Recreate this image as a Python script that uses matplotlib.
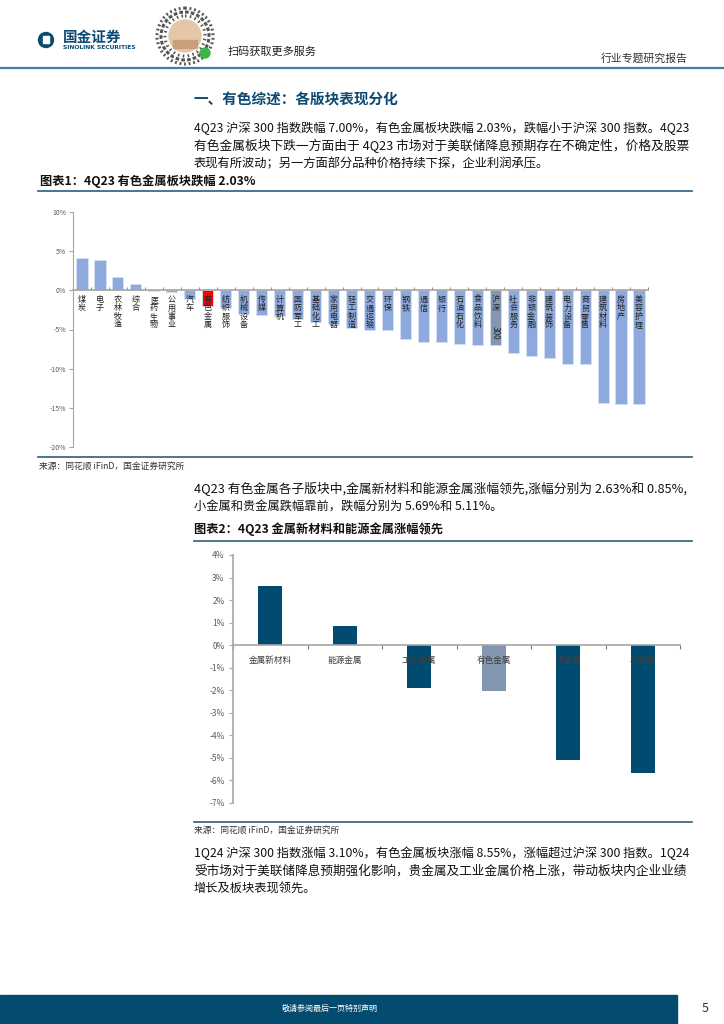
import matplotlib
matplotlib.use("Agg")
import matplotlib.pyplot as plt
from matplotlib.patches import Rectangle, Circle
import numpy as np

plt.rcParams['font.family'] = ['Noto Sans CJK SC', 'DejaVu Sans']

# chart 1: 申万一级行业 4Q23 涨跌幅
sectors = ['煤炭', '电子', '农林牧渔', '综合', '医药生物', '公用事业', '汽车', '有色金属',
           '纺织服饰', '机械设备', '传媒', '计算机', '国防军工', '基础化工', '家用电器',
           '轻工制造', '交通运输', '环保', '钢铁', '通信', '银行', '石油石化', '食品饮料',
           '沪深300', '社会服务', '非银金融', '建筑装饰', '电力设备', '商贸零售', '建筑材料',
           '房地产', '美容护理']
sector_chg = [4.15, 3.90, 1.67, 0.77, -0.10, -0.25, -1.07, -2.03, -2.30, -3.00, -3.10,
              -3.25, -3.60, -4.00, -4.35, -4.87, -5.00, -5.04, -6.15, -6.62, -6.62, -6.88,
              -7.00, -7.00, -8.00, -8.38, -8.60, -9.36, -9.36, -14.44, -14.57, -14.57]
yticks1 = [10, 5, 0, -5, -10, -15, -20]

# chart 2: 有色子板块 4Q23 涨跌幅
subsectors = ['金属新材料', '能源金属', '工业金属', '有色金属', '贵金属', '小金属']
sub_chg = [2.63, 0.85, -1.90, -2.03, -5.11, -5.69]
yticks2 = [4, 3, 2, 1, 0, -1, -2, -3, -4, -5, -6, -7]

para1 = ["4Q23 沪深 300 指数跌幅 7.00%，有色金属板块跌幅 2.03%，跌幅小于沪深 300 指数。4Q23",
         "有色金属板块下跌一方面由于 4Q23 市场对于美联储降息预期存在不确定性，价格及股票",
         "表现有所波动；另一方面部分品种价格持续下探，企业利润承压。"]
para2 = ["4Q23 有色金属各子版块中,金属新材料和能源金属涨幅领先,涨幅分别为 2.63%和 0.85%,",
         "小金属和贵金属跌幅靠前，跌幅分别为 5.69%和 5.11%。"]
para3 = ["1Q24 沪深 300 指数涨幅 3.10%，有色金属板块涨幅 8.55%，涨幅超过沪深 300 指数。1Q24",
         "受市场对于美联储降息预期强化影响，贵金属及工业金属价格上涨，带动板块内企业业绩",
         "增长及板块表现领先。"]

W, H = 724, 1024
NAVY = '#0B4A73'
fig = plt.figure(figsize=(W / 100, H / 100), dpi=100)
renderer = fig.canvas.get_renderer()
bg = fig.add_axes([0, 0, 1, 1])
bg.set_xlim(0, W)
bg.set_ylim(H, 0)
bg.axis('off')

# header: logo, qr code sketch, labels
bg.add_patch(Circle((46, 40), 7.5, color=NAVY))
bg.add_patch(Rectangle((43, 36), 6, 7, color='white'))
bg.text(63, 37, '国金证券', fontsize=10.5, fontweight='bold', color=NAVY, va='center')
bg.text(63, 47.5, 'SINOLINK SECURITIES', fontsize=4.3, fontweight='bold', color=NAVY,
        va='center', family='DejaVu Sans')
for r, dash in [(28, (0, (0.6, 0.9))), (24, (0, (1.2, 0.7))), (20, (0, (0.5, 1.1)))]:
    bg.add_patch(Circle((185, 36), r, fill=False, ec='#555555', lw=2.2, ls=dash))
bg.add_patch(Circle((185, 36), 16, color='#E3C7A8'))
bg.add_patch(Rectangle((173, 40), 24, 8, color='#C89F7A'))
bg.add_patch(Circle((205, 53), 5, color='#3DB54A'))
bg.text(228, 52, '扫码获取更多服务', fontsize=8, color='#222222', va='center')
bg.text(688, 58, '行业专题研究报告', fontsize=7.8, color='#333333', va='center', ha='right')
bg.plot([0, W], [68, 68], color='#3E7FA6', lw=1.6)

bg.text(194, 99, '一、有色综述：各版块表现分化', fontsize=10.5, fontweight='bold',
        color=NAVY, va='center')


def paragraph(lines, x, y0, step=18, right=689, size=8.8):
    # full lines are stretched a little so they end at the right margin
    for k, line in enumerate(lines):
        t = bg.text(x, y0 + k * step, line, fontsize=size, color='#111111', va='center')
        if k < len(lines) - 1:
            w = t.get_window_extent(renderer).width
            scale = min(max((right - x) / w, 0.95), 1.06)
            t.set_fontsize(size * scale)


paragraph(para1, 194, 128)
paragraph(para2, 194, 489)
paragraph(para3, 194, 853)

# chart 1 frame
bg.text(40, 181, '图表1：4Q23 有色金属板块跌幅 2.03%', fontsize=8.8, fontweight='bold',
        color='#111111', va='center')
bg.plot([38, 692], [191, 191], color='#2C5E7E', lw=1.2)
bg.plot([38, 692], [457, 457], color='#2C5E7E', lw=1.2)
bg.text(39, 467, '来源：同花顺 iFinD，国金证券研究所', fontsize=6.3, color='#333333', va='center')

# chart 2 frame
bg.text(194, 529, '图表2：4Q23 金属新材料和能源金属涨幅领先', fontsize=8.8, fontweight='bold',
        color='#111111', va='center')
bg.plot([194, 692], [541, 541], color='#2C5E7E', lw=1.2)
bg.plot([194, 692], [822, 822], color='#2C5E7E', lw=1.2)
bg.text(194, 831, '来源：同花顺 iFinD，国金证券研究所', fontsize=6.3, color='#333333', va='center')

# footer
bg.add_patch(Rectangle((0, 995), 677, 29, color='#034B6F'))
bg.text(330, 1008, '敬请参阅最后一页特别声明', fontsize=5.8, color='white', va='center', ha='center')
bg.text(705, 1008, '5', fontsize=9, color='#333333', va='center', ha='center')

AXC = '#A6A6A6'

# ---- chart 1
ax1 = fig.add_axes([73 / W, 1 - 447 / H, (648 - 73) / W, (447 - 212) / H])
ax1.patch.set_alpha(0)
x1 = np.arange(len(sectors))
colors1 = ['#FF0000' if s == '有色金属' else '#8497B0' if s == '沪深300' else '#8EA9DB'
           for s in sectors]
ax1.bar(x1, sector_chg, width=0.62, color=colors1, edgecolor='#D6E0F2', linewidth=0.6, zorder=2)
ax1.set_xlim(-0.5, len(sectors) - 0.5)
ax1.set_ylim(-20, 10)
for side in ['top', 'right']:
    ax1.spines[side].set_visible(False)
ax1.spines['left'].set_color(AXC)
ax1.spines['bottom'].set_position(('data', 0))
ax1.spines['bottom'].set_color(AXC)
ax1.spines['bottom'].set_linewidth(1.2)
ax1.spines['bottom'].set_zorder(3)
ax1.set_xticks(np.arange(-0.5, len(sectors), 1))
ax1.set_xticklabels([])
ax1.tick_params(axis='x', direction='in', length=2, color='#777777', width=0.6)
ax1.set_yticks(yticks1)
ax1.set_yticklabels([f'{v}%' for v in yticks1])
ax1.tick_params(axis='y', direction='out', length=3, color=AXC, labelsize=5,
                labelcolor='#595959', pad=2)
for i, s in enumerate(sectors):
    cjk = ''.join(ch for ch in s if not ch.isdigit())
    digits = ''.join(ch for ch in s if ch.isdigit())
    ax1.text(i, -0.6, '\n'.join(cjk), fontsize=5.8, linespacing=0.92, ha='center', va='top',
             color='#222222', zorder=4)
    if digits:
        ax1.text(i, -0.6 - 2.0 * len(cjk), digits, fontsize=5.8, rotation=-90, ha='center',
                 va='top', color='#222222', zorder=4)

# ---- chart 2
ax2 = fig.add_axes([233 / W, 1 - 803 / H, (680 - 233) / W, (803 - 555) / H])
ax2.patch.set_alpha(0)
x2 = np.arange(len(subsectors))
colors2 = ['#8497B0' if s == '有色金属' else '#014A70' for s in subsectors]
ax2.bar(x2, sub_chg, width=0.32, color=colors2, zorder=2)
ax2.set_xlim(-0.5, len(subsectors) - 0.5)
ax2.set_ylim(-7, 4)
for side in ['top', 'right']:
    ax2.spines[side].set_visible(False)
ax2.spines['left'].set_color(AXC)
ax2.spines['left'].set_linewidth(1.2)
ax2.spines['bottom'].set_position(('data', 0))
ax2.spines['bottom'].set_color(AXC)
ax2.spines['bottom'].set_linewidth(1.2)
ax2.spines['bottom'].set_zorder(3)
ax2.set_xticks(np.arange(-0.5, len(subsectors), 1))
ax2.set_xticklabels([])
ax2.tick_params(axis='x', direction='out', length=3, color='#777777', width=0.8)
ax2.set_yticks(yticks2)
ax2.set_yticklabels([f'{v}%' for v in yticks2])
ax2.tick_params(axis='y', direction='out', length=3, color=AXC, labelsize=6,
                labelcolor='#595959', pad=3)
for i, s in enumerate(subsectors):
    ax2.text(i, -0.66, s, fontsize=6.2, ha='center', va='center', color='#404040', zorder=4)

fig.savefig('out.png', dpi=100)
